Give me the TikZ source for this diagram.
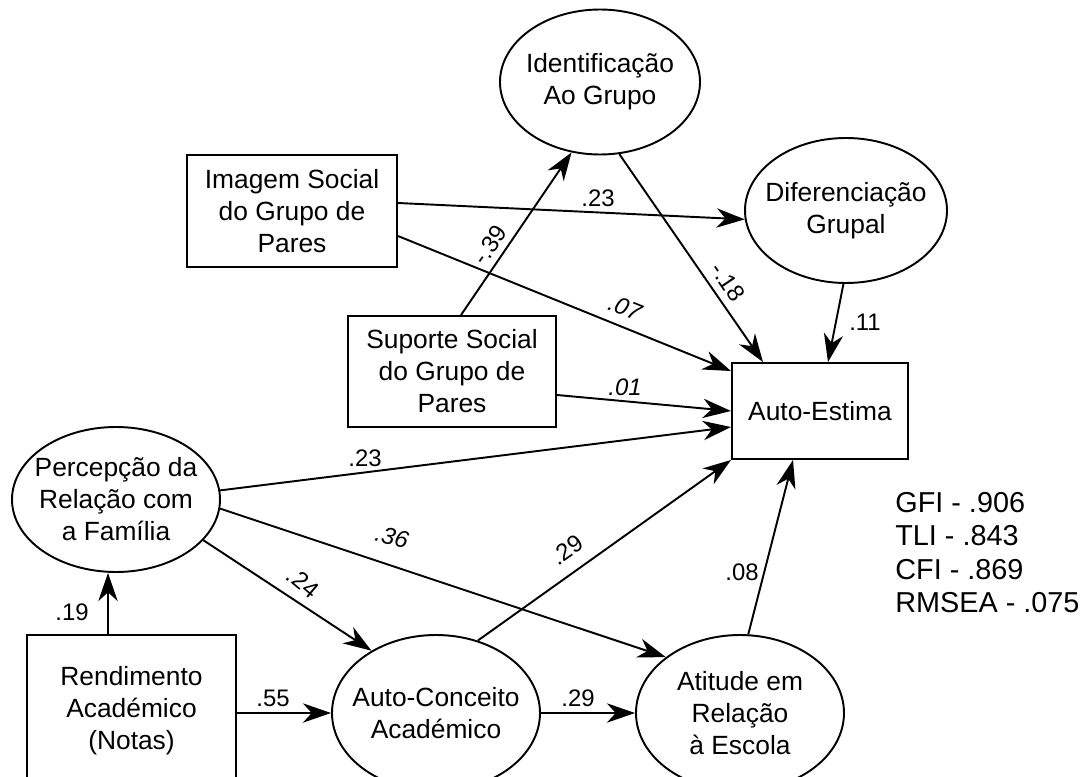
\documentclass[tikz,border=0pt]{standalone}
\usepackage{fontspec}
\setmainfont{Liberation Sans}
\usetikzlibrary{shapes.geometric, arrows.meta}
\tikzset{
  obs/.style = {draw, rectangle, line width = 1.1pt, align=center, inner sep=0pt, font=\fontsize{15}{18.2}\selectfont},
  lat/.style = {draw, ellipse, line width = 1.1pt, align=center, inner sep=0pt, inner xsep=-8pt, font=\fontsize{15}{18.2}\selectfont},
  eff/.style = {line width = 1.1pt, -{Stealth[length=16pt, width=11pt, inset=5pt]}},
  coef/.style = {inner sep=0pt, font=\fontsize{13.6}{16}\selectfont},
  coefit/.style = {inner sep=0pt, font=\fontsize{13.6}{16}\selectfont\itshape}
}
\begin{document}
\begin{tikzpicture}
  \useasboundingbox (0,0) rectangle (21.82,15.52);
  \node[lat, minimum width=4cm, minimum height=2.9cm] (ident) at (12.00,13.88) {Identificação\\Ao Grupo};
  \node[lat, minimum width=4.04cm, minimum height=2.9cm] (difer) at (16.92,11.31) {Diferenciação\\Grupal};
  \node[obs, minimum width=4.2cm, minimum height=2.24cm] (imagem) at (5.84,11.30) {Imagem Social\\do Grupo de\\Pares};
  \node[obs, minimum width=4.16cm, minimum height=2.22cm] (suporte) at (9.04,8.09) {Suporte Social\\do Grupo de\\Pares};
  \node[obs, minimum width=3.52cm, minimum height=1.92cm] (autoest) at (16.40,7.30) {Auto-Estima};
  \node[lat, minimum width=4.16cm, minimum height=2.9cm] (percep) at (2.32,5.53) {Percepção da\\Relação com\\a Família};
  \node[obs, minimum width=4.18cm, minimum height=3.04cm] (rend) at (2.63,1.30) {Rendimento\\Académico\\(Notas)};
  \node[lat, minimum width=4.16cm, minimum height=3.12cm] (autocon) at (8.72,1.26) {Auto-Conceito\\Académico};
  \node[lat, minimum width=4.16cm, minimum height=3.12cm] (atitude) at (14.80,1.26) {Atitude em\\Relação\\à Escola};
  \node[align=left, anchor=west, inner sep=0pt, font=\fontsize{16.4}{19}\selectfont] (fit) at (17.90,4.47) {GFI - .906\\TLI - .843\\CFI - .869\\RMSEA - .075};

  \draw[eff] ([yshift=0.16cm]imagem.east) -- (difer.185);
  \draw[eff] ([yshift=-0.5cm]imagem.east) -- ([yshift=-0.18cm]autoest.north west);
  \draw[eff] ([xshift=0.18cm]suporte.north) -- (ident.248);
  \draw[eff] (ident.285) -- ([xshift=-1.14cm]autoest.north);
  \draw[eff] (difer.268) -- ([xshift=0.16cm]autoest.north);
  \draw[eff] ([yshift=-0.47cm]suporte.east) -- (autoest.west);
  \draw[eff] (percep.5) -- ([yshift=-0.32cm]autoest.west);
  \draw[eff] (percep.335) -- (autocon.136);
  \draw[eff] (percep.355) -- (atitude.143);
  \draw[eff] ([xshift=-0.47cm]rend.north) -- ([xshift=-0.47cm]rend.north |- percep.south);
  \draw[eff] (rend.east |- autocon.west) -- (autocon.west);
  \draw[eff] (autocon.east) -- (atitude.west);
  \draw[eff] (autocon.60) -- (autoest.south west);
  \draw[eff] (atitude.84) -- ([xshift=-0.54cm]autoest.south);

  \node[coef] (k23a) at (11.96,11.56) {.23};
  \node[coef, rotate=55] (k39) at (9.80,10.62) {-.39};
  \node[coef, rotate=-56] (k18) at (14.56,9.88) {-.18};
  \node[coefit, rotate=-22] (k07) at (12.50,9.36) {.07};
  \node[coef] (k11) at (17.30,9.08) {.11};
  \node[coefit] (k01) at (12.50,7.78) {.01};
  \node[coef] (k23b) at (7.30,6.36) {.23};
  \node[coefit, rotate=-15] (k36) at (7.84,4.78) {.36};
  \node[coef, rotate=-40] (k24) at (6.06,3.86) {.24};
  \node[coef] (k19) at (1.44,3.28) {.19};
  \node[coef] (k55) at (5.46,1.56) {.55};
  \node[coef] (k29a) at (11.56,1.56) {.29};
  \node[coef, rotate=35] (k29b) at (11.34,4.52) {.29};
  \node[coef] (k08) at (14.84,4.08) {.08};
\end{tikzpicture}
\end{document}
